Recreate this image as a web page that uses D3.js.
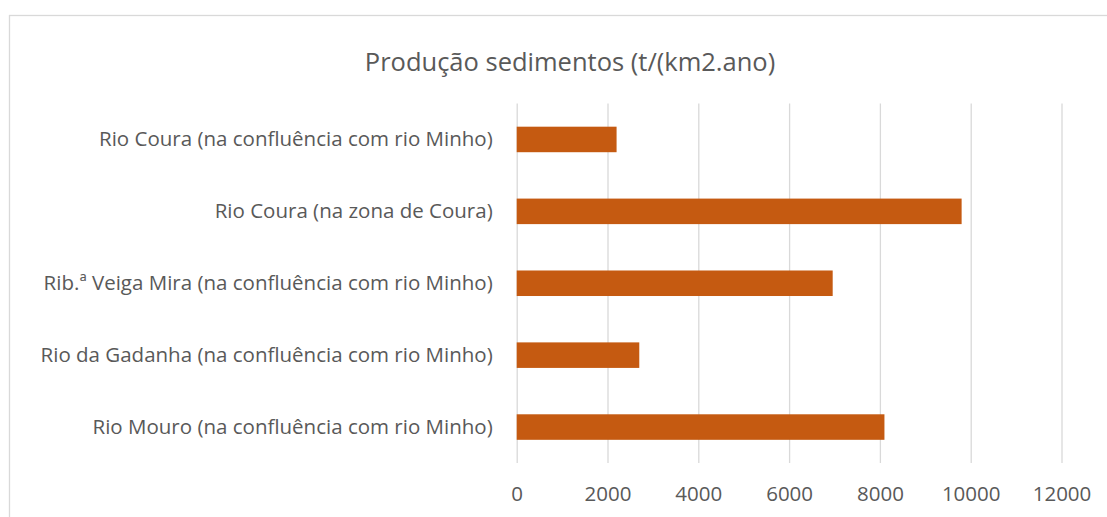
<!doctype html>
<html>
<head>
    <meta charset="UTF-8">
    <title>Produção sedimentos</title>
    <script src="https://cdn.jsdelivr.net/npm/d3@7/dist/d3.min.js"></script>
    <style>
        body { margin: 0; background: #fff; }
        svg text { font-family: "Open Sans", sans-serif; fill: #595959; }
        .grid line { stroke: #d9d9d9; stroke-width: 1.3; }
        .grid .domain { display: none; }
    </style>
</head>
<body>
<svg class="chart" width="1107" height="517"></svg>
<script>
    var categories = [
        'Rio Coura (na confluência com rio Minho)',
        'Rio Coura (na zona de Coura)',
        'Rib.ª Veiga Mira (na confluência com rio Minho)',
        'Rio da Gadanha (na confluência com rio Minho)',
        'Rio Mouro (na confluência com rio Minho)'
    ];
    var values = [2200, 9800, 6960, 2700, 8100];
    var xTicks = [0, 2000, 4000, 6000, 8000, 10000, 12000];
    var title = 'Produção sedimentos (t/(km2.ano)';

    var svg = d3.select('.chart');

    // chart frame (runs off the right and bottom of the picture)
    svg.append('rect')
        .attr('x', 9.5).attr('y', 15.5)
        .attr('width', 1200).attr('height', 600)
        .attr('fill', 'none').attr('stroke', '#d9d9d9').attr('stroke-width', 1.3);

    var plotLeft = 516.7, plotRight = 1061.5, plotTop = 103.5, plotBottom = 463;

    var x = d3.scaleLinear().domain([0, 12000]).range([plotLeft, plotRight]);
    var y = d3.scaleBand().domain(categories).range([plotTop, plotBottom])
        .paddingInner(0.645).paddingOuter(0.3225);

    var grid = svg.append('g').attr('class', 'grid')
        .attr('transform', 'translate(0,' + plotBottom + ')')
        .call(d3.axisBottom(x).tickValues(xTicks).tickSize(-(plotBottom - plotTop)).tickFormat(d3.format('d')));
    grid.selectAll('text')
        .attr('y', 31).attr('dy', '0.35em')
        .style('font-size', '20.5px').style('fill', '#595959');

    svg.append('g').selectAll('rect').data(values)
        .enter().append('rect')
        .attr('x', x(0))
        .attr('y', function (d, i) { return y(categories[i]); })
        .attr('width', function (d) { return x(d) - x(0); })
        .attr('height', y.bandwidth())
        .attr('fill', '#c55a11');

    var yAxis = svg.append('g')
        .attr('transform', 'translate(' + plotLeft + ',0)')
        .call(d3.axisLeft(y).tickSize(0).tickPadding(24));
    yAxis.select('.domain').remove();
    yAxis.selectAll('text').style('font-size', '20.5px').style('fill', '#595959');

    svg.append('text')
        .attr('x', 570).attr('y', 62).attr('dy', '0.35em')
        .attr('text-anchor', 'middle')
        .style('font-size', '25.5px')
        .text(title);
</script>
</body>
</html>
